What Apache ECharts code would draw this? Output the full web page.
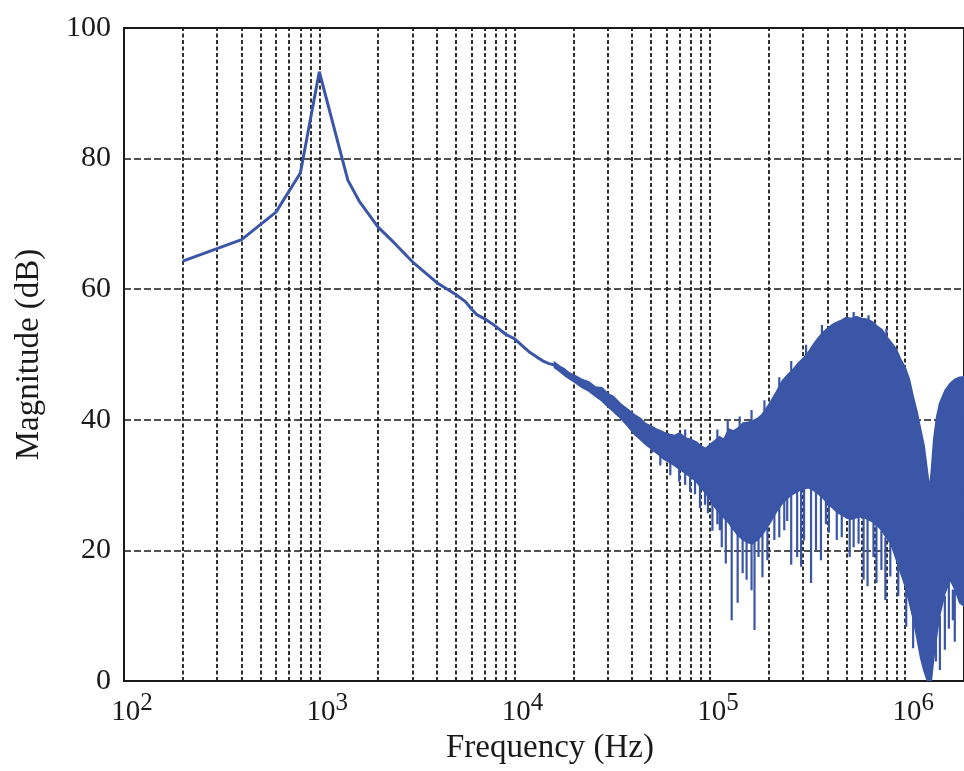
<!DOCTYPE html>
<html><head><meta charset="utf-8">
<script src="https://cdn.jsdelivr.net/npm/echarts@6.0.0/dist/echarts.min.js"></script>
<style>html,body{margin:0;padding:0;background:#fff}#c{width:964px;height:771px}</style>
</head><body><div id="c"></div>
<script>
// ---- smooth low-frequency part of the response ----
const lineFreq = [200, 400, 600, 800, 1000, 1400, 1600, 2000, 2400, 3000, 4000, 5000, 5600, 6000, 6400, 7000, 7600, 8000, 9000, 10000, 11000, 12000, 13000, 14000, 15000, 16000];
const lineDb   = [64.3, 67.6, 71.8, 77.8, 93.3, 76.7, 73.5, 69.5, 67.2, 64.2, 61.0, 59.2, 58.1, 57.0, 56.1, 55.5, 54.8, 54.3, 53.1, 52.4, 51.3, 50.3, 49.6, 49.0, 48.6, 48.4];

// ---- noisy high-frequency band: upper / lower envelope ----
const bandFreq = [16000, 17000, 18000, 19000, 20000, 22000, 24000, 26000, 28000, 30000, 32000, 35000, 38000, 41000, 44000, 47000, 50000, 54000, 58000, 62000, 66000, 70000, 75000, 80000, 85000, 90000, 95000, 100000, 106000, 112000, 118000, 125000, 132000, 140000, 148000, 156000, 165000, 175000, 185000, 195000, 205000, 220000, 235000, 250000, 265000, 280000, 300000, 320000, 340000, 360000, 380000, 400000, 425000, 450000, 475000, 500000, 530000, 560000, 600000, 640000, 680000, 720000, 760000, 800000, 850000, 900000, 950000, 1000000, 1050000, 1100000, 1150000, 1200000, 1250000, 1300000, 1330000, 1360000, 1400000, 1450000, 1500000, 1600000, 1700000, 1800000, 1900000, 2000000];
const bandUpper = [48.8, 48.2, 47.8, 47.2, 46.9, 46.2, 45.8, 45.0, 44.9, 44.0, 43.6, 42.4, 41.6, 40.8, 40.2, 39.4, 39.0, 38.5, 38.1, 37.8, 37.6, 38.0, 37.2, 37.0, 36.6, 36.0, 35.6, 36.2, 36.8, 37.4, 37.0, 38.6, 38.3, 38.8, 39.5, 39.6, 39.8, 40.2, 40.8, 41.8, 42.8, 44.4, 46.0, 46.9, 47.6, 48.5, 49.4, 50.4, 51.6, 52.6, 53.4, 54.0, 54.6, 55.0, 55.3, 55.7, 55.5, 55.8, 55.5, 55.4, 55.0, 54.3, 53.8, 52.8, 51.8, 50.8, 49.2, 48.0, 46.2, 43.5, 41.2, 38.5, 36.0, 32.0, 29.5, 32.0, 37.0, 40.5, 42.5, 44.5, 45.6, 46.2, 46.5, 46.6];
const bandLower = [48.0, 47.4, 46.8, 46.3, 45.9, 45.0, 44.4, 43.6, 42.9, 42.0, 41.3, 40.2, 39.0, 37.8, 37.0, 36.2, 35.6, 34.8, 34.0, 33.5, 33.0, 32.4, 31.8, 31.2, 30.6, 29.6, 28.8, 27.8, 26.6, 25.8, 25.0, 24.2, 23.2, 22.2, 21.6, 21.2, 21.0, 21.6, 22.4, 23.4, 24.4, 26.0, 27.2, 28.0, 28.6, 29.0, 29.4, 29.6, 29.2, 28.6, 28.0, 27.2, 26.5, 25.8, 25.4, 25.0, 24.8, 25.0, 25.2, 24.8, 24.4, 23.8, 23.0, 22.0, 20.8, 18.6, 16.5, 14.5, 12.0, 9.5, 6.5, 3.5, 1.5, 0.0, 0.0, 0.0, 3.5, 7.0, 10.0, 13.5, 15.5, 14.0, 12.0, 11.5];

// ---- thin vertical excursions (spikes) around the band: [freq, from dB, to dB] ----
const spikeFreq = [50800, 55740, 62700, 69600, 74700, 79150, 83900, 88960, 94400, 97680, 103000, 109200, 112400, 115000, 120600, 129300, 138700, 147100, 154100, 163400, 169200, 177400, 185800, 197000, 213800, 226600, 240300, 248800, 260800, 279700, 293100, 303500, 329500, 349300, 370300, 392700, 406600, 446300, 473300, 519700, 544500, 577300, 612100, 641500, 687900, 712500, 755300, 791600, 839000, 921500, 1012000, 1098000, 1437000, 1505000, 1596000, 1673000, 1753000, 1794000,
  74700, 109200, 123400, 142000, 163400, 190200, 226600, 260800, 310700, 374600, 544500, 649100, 801000];
const spikeFrom = [36.0, 34.6, 33.5, 32.6, 32.0, 31.2, 31.0, 30.0, 29.0, 28.5, 27.5, 26.5, 26.0, 25.5, 25.0, 24.0, 23.0, 22.0, 21.5, 21.5, 21.5, 22.0, 22.5, 23.5, 25.5, 27.0, 28.0, 28.5, 28.8, 29.2, 29.4, 29.5, 29.4, 29.0, 28.4, 27.5, 27.0, 26.0, 25.5, 25.0, 25.0, 25.2, 25.0, 25.0, 24.5, 24.0, 23.0, 22.0, 21.0, 18.0, 15.0, 10.0, 7.0, 10.0, 13.0, 15.0, 14.0, 14.0,
  36.0, 36.0, 37.0, 38.0, 39.0, 40.5, 44.0, 46.5, 49.5, 52.0, 55.0, 54.5, 52.0];
const spikeTo   = [35.0, 33.0, 31.5, 30.5, 30.0, 29.0, 28.6, 26.5, 27.0, 25.7, 23.0, 24.0, 23.1, 20.5, 18.0, 9.3, 12.0, 16.5, 15.5, 13.9, 7.8, 19.0, 15.9, 18.5, 21.6, 22.0, 23.1, 24.5, 17.8, 19.0, 17.5, 21.5, 15.0, 20.0, 18.5, 24.0, 22.7, 21.6, 22.0, 19.0, 20.5, 21.0, 15.5, 14.5, 19.0, 15.0, 17.0, 12.4, 16.0, 13.0, 8.3, 5.0, 3.0, 1.7, 4.8, 8.0, 9.3, 6.0,
  38.5, 38.5, 40.0, 40.5, 41.5, 43.0, 46.5, 49.0, 51.5, 54.5, 56.5, 56.0, 54.0];

// ---- axes ----
const yTicks = [0, 20, 40, 60, 80, 100];
const xDecades = [2, 3, 4, 5, 6];
const gridFreqs = [200, 300, 400, 500, 600, 700, 800, 900, 1000, 2000, 3000, 4000, 5000, 6000, 7000, 8000, 9000, 10000, 20000, 30000, 40000, 50000, 60000, 70000, 80000, 90000, 100000, 200000, 300000, 400000, 500000, 600000, 700000, 800000, 900000, 1000000];

const BLUE = '#3B56A7';
const INK = '#1a1a1a';
const FONT = "'Liberation Serif', 'Times New Roman', serif";

const lineData = lineFreq.map((f, i) => [f, lineDb[i]]);
const bandData = bandFreq.map((f, i) => [f, bandUpper[i], bandLower[i]]);
const spikeData = [];
spikeFreq.forEach((f, i) => { spikeData.push([f, spikeFrom[i]]); spikeData.push([f, spikeTo[i]]); spikeData.push([f, '-']); });

const chart = echarts.init(document.getElementById('c'), null, {renderer: 'canvas'});
chart.setOption({
  animation: false,
  backgroundColor: '#fff',
  grid: {left: 124, top: 28, right: -7, bottom: 90, show: true, borderColor: INK, borderWidth: 2, backgroundColor: 'transparent'},
  xAxis: {
    type: 'log', logBase: 10, min: 100, max: 2000000,
    name: 'Frequency (Hz)', nameLocation: 'middle', nameGap: 50,
    nameTextStyle: {fontFamily: FONT, fontSize: 33, color: INK, padding: [0, 0, 0, 12]},
    axisLine: {show: true, lineStyle: {color: INK, width: 2}},
    axisTick: {show: false},
    splitLine: {show: false},
    minorTick: {show: false}, minorSplitLine: {show: false},
    axisLabel: {
      margin: 10, showMaxLabel: false, padding: [0, 0, 0, 16],
      formatter: function (v) {
        const e = Math.log10(v); const k = Math.round(e);
        if (Math.abs(e - k) > 1e-6 || xDecades.indexOf(k) < 0) return '';
        return '{b|10}{s|' + k + '}';
      },
      rich: {
        b: {fontFamily: FONT, fontSize: 29, color: INK, lineHeight: 36, verticalAlign: 'bottom'},
        s: {fontFamily: FONT, fontSize: 25, color: INK, lineHeight: 36, verticalAlign: 'top'}
      }
    }
  },
  yAxis: {
    type: 'value', min: yTicks[0], max: yTicks[yTicks.length - 1], interval: 20,
    name: 'Magnitude (dB)', nameLocation: 'middle', nameGap: 78,
    nameTextStyle: {fontFamily: FONT, fontSize: 33, color: INK},
    axisLine: {show: true, lineStyle: {color: INK, width: 2}},
    axisTick: {show: false},
    axisLabel: {margin: 13, fontFamily: FONT, fontSize: 30, color: INK},
    splitLine: {show: true, showMinLine: false, showMaxLine: false, lineStyle: {color: INK, width: 1.6, type: [7, 3]}}
  },
  series: [
    {
      type: 'line', name: 'smooth', data: lineData, showSymbol: false, symbol: 'none', z: 3,
      lineStyle: {color: BLUE, width: 3}, itemStyle: {color: BLUE},
      markLine: {
        silent: true, symbol: ['none', 'none'], z: 1, animation: false,
        label: {show: false},
        lineStyle: {color: INK, width: 1.8, type: [4, 2.5]},
        emphasis: {disabled: true},
        data: gridFreqs.map(f => ({xAxis: f}))
      }
    },
    {
      type: 'custom', name: 'band', z: 3, clip: true,
      data: bandData, encode: {x: 0, y: [1, 2]},
      renderItem: function (params, api) {
        if (params.dataIndex !== 0) return null;
        const pts = [];
        for (let i = 0; i < bandFreq.length; i++) pts.push(api.coord([bandFreq[i], bandUpper[i]]));
        for (let i = bandFreq.length - 1; i >= 0; i--) pts.push(api.coord([bandFreq[i], bandLower[i]]));
        return {type: 'polygon', shape: {points: pts}, style: {fill: BLUE, stroke: BLUE, lineWidth: 1.6}};
      }
    },
    {
      type: 'line', name: 'spikes', data: spikeData, showSymbol: false, symbol: 'none', z: 3,
      connectNulls: false, lineStyle: {color: BLUE, width: 2.2}
    }
  ]
});
</script></body></html>
